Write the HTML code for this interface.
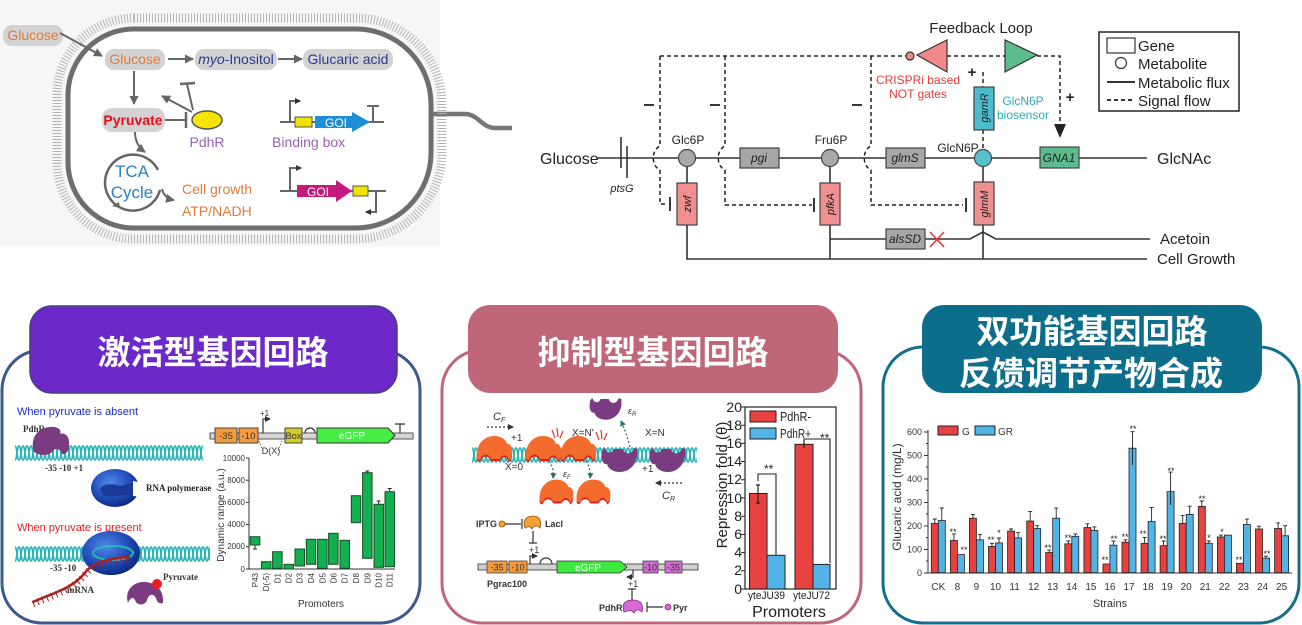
<!DOCTYPE html>
<html><head><meta charset="utf-8">
<style>
html,body{margin:0;padding:0;background:#fff;}
svg{display:block;font-family:"Liberation Sans","Noto Sans CJK SC",sans-serif;}
.cj{font-family:"Liberation Sans","Noto Sans CJK SC",sans-serif;font-weight:bold;fill:#fff;font-size:33px;}
.sf{font-family:"Liberation Serif",serif;font-weight:bold;}
</style></head><body>
<svg width="1302" height="625" viewBox="0 0 1302 625" xmlns="http://www.w3.org/2000/svg">
<defs>
 <marker id="ag" markerWidth="9" markerHeight="9" refX="8" refY="4.5" orient="auto" markerUnits="userSpaceOnUse"><path d="M0,0 L9,4.5 L0,9 z" fill="#666"/></marker>
 <marker id="ak" markerWidth="6" markerHeight="6" refX="5" refY="3" orient="auto" markerUnits="userSpaceOnUse"><path d="M0,0 L6,3 L0,6 z" fill="#333"/></marker>
 <marker id="at" markerWidth="6" markerHeight="6" refX="5" refY="3" orient="auto" markerUnits="userSpaceOnUse"><path d="M0,0 L6,3 L0,6 z" fill="#2a6f73"/></marker>
 <pattern id="hx" width="8" height="16" patternUnits="userSpaceOnUse">
  <path d="M0 1 C2 1 2 15 4 15 C6 15 6 1 8 1" stroke="#2db4b4" stroke-width="1.7" fill="none"/>
  <path d="M0 15 C2 15 2 1 4 1 C6 1 6 15 8 15" stroke="#2db4b4" stroke-width="1.7" fill="none"/>
 </pattern>
 <radialGradient id="pol" cx="40%" cy="35%" r="70%">
  <stop offset="0" stop-color="#4f86e8"/><stop offset="0.6" stop-color="#1f4bb8"/><stop offset="1" stop-color="#0b2476"/>
 </radialGradient>
 <path id="ob" d="M-17 10 C-19 -4 -10 -13 0 -13 C8 -13 12 -9 13 -5 C16 -6 19 -2 18 4 C18 8 17 10 15 11 C13 5 8 5 6 10 L-3 10 C-5 4 -12 4 -14 11 Z"/>
</defs>

<!-- ============ TOP LEFT CELL ============ -->
<rect x="0" y="0" width="440" height="246" fill="#f6f6f6"/>
<path d="M433 114 H465 C478 114 482 128 495 128 H512" fill="none" stroke="#777" stroke-width="4.5"/>
<path d="M134 18 H356 A86 86 0 0 1 442 104 V153 A86 86 0 0 1 356 239 H134 A77 77 0 0 1 57 162 V95 A77 77 0 0 1 134 18 Z" fill="none" stroke="#b4b4b4" stroke-width="9" stroke-dasharray="1 2"/>
<path d="M134 29 H356 A75 75 0 0 1 431 104 V153 A75 75 0 0 1 356 228 H134 A66 66 0 0 1 68 162 V95 A66 66 0 0 1 134 29 Z" fill="#fff" stroke="#6e6e6e" stroke-width="5"/>

<rect x="3" y="25" width="60" height="21" rx="9" fill="#d3d3d3"/>
<text x="33" y="40" font-size="14" fill="#e07b39" text-anchor="middle">Glucose</text>
<line x1="60" y1="33" x2="102" y2="56" stroke="#666" stroke-width="2" marker-end="url(#ag)"/>
<rect x="105" y="49" width="60" height="21" rx="9" fill="#d3d3d3"/>
<text x="135" y="64" font-size="14" fill="#e07b39" text-anchor="middle">Glucose</text>
<line x1="168" y1="59" x2="193" y2="59" stroke="#666" stroke-width="2" marker-end="url(#ag)"/>
<rect x="195" y="49" width="82" height="21" rx="9" fill="#d3d3d3"/>
<text x="236" y="64" font-size="14" fill="#2b3a8c" text-anchor="middle"><tspan font-style="italic">myo</tspan>-Inositol</text>
<line x1="278" y1="59" x2="302" y2="59" stroke="#666" stroke-width="2" marker-end="url(#ag)"/>
<rect x="303" y="49" width="90" height="21" rx="9" fill="#d3d3d3"/>
<text x="348" y="64" font-size="14" fill="#2b3a8c" text-anchor="middle">Glucaric acid</text>
<line x1="134" y1="71" x2="134" y2="104" stroke="#666" stroke-width="2" marker-end="url(#ag)"/>
<rect x="102" y="108" width="63" height="24" rx="10" fill="#d3d3d3"/>
<text x="133" y="125" font-size="14" font-weight="bold" fill="#e3101c" text-anchor="middle">Pyruvate</text>
<line x1="165" y1="120" x2="186" y2="120" stroke="#666" stroke-width="2"/>
<line x1="186" y1="112" x2="186" y2="128" stroke="#666" stroke-width="2.5"/>
<ellipse cx="207" cy="120" rx="15" ry="9" fill="#f7e400" stroke="#555" stroke-width="1.5"/>
<line x1="192" y1="112" x2="162" y2="96" stroke="#666" stroke-width="2" marker-end="url(#ag)"/>
<line x1="193" y1="110" x2="187" y2="84" stroke="#666" stroke-width="2"/>
<line x1="180" y1="84" x2="195" y2="83" stroke="#666" stroke-width="2.5"/>
<text x="207" y="147" font-size="14" fill="#9b5fb5" text-anchor="middle">PdhR</text>
<path d="M135 132 Q135 145 145 152" fill="none" stroke="#666" stroke-width="2" marker-end="url(#ag)"/>
<path d="M158 170 A28 28 0 1 0 160 190" fill="none" stroke="#666" stroke-width="2.5"/>
<path d="M162 189 Q164 198 174 200" fill="none" stroke="#666" stroke-width="2" marker-end="url(#ag)"/>
<path d="M120 208 L112 206 L119 202 z" fill="#666"/>
<text x="132" y="177" font-size="17" fill="#2c7fc4" text-anchor="middle">TCA</text>
<text x="132" y="198" font-size="17" fill="#2c7fc4" text-anchor="middle">Cycle</text>
<text x="182" y="194" font-size="14" fill="#e07b39">Cell growth</text>
<text x="182" y="216" font-size="14" fill="#e07b39">ATP/NADH</text>

<line x1="280" y1="122" x2="384" y2="122" stroke="#666" stroke-width="2"/>
<path d="M290 122 V101 H300" fill="none" stroke="#666" stroke-width="2" marker-end="url(#ak)"/>
<rect x="295" y="117" width="17" height="10" fill="#f2e200" stroke="#555" stroke-width="1"/>
<polygon points="315,116 352,116 352,112 370,122 352,132 352,128 315,128" fill="#1c8fd6"/>
<text x="336" y="127" font-size="12" fill="#fff" text-anchor="middle">GOI</text>
<line x1="373" y1="122" x2="373" y2="106" stroke="#666" stroke-width="2"/>
<line x1="367" y1="106" x2="379" y2="106" stroke="#666" stroke-width="2"/>
<text x="272" y="147" font-size="14" fill="#9b5fb5">Binding box</text>

<line x1="280" y1="191" x2="386" y2="191" stroke="#666" stroke-width="2"/>
<path d="M290 191 V168 H301" fill="none" stroke="#666" stroke-width="2" marker-end="url(#ak)"/>
<polygon points="297,185 336,185 336,180 352,191 336,202 336,197 297,197" fill="#c4197d"/>
<text x="318" y="196" font-size="12" fill="#fff" text-anchor="middle">GOI</text>
<rect x="353" y="186" width="15" height="10" fill="#f2e200" stroke="#555" stroke-width="1"/>
<path d="M376 191 V212 H366" fill="none" stroke="#666" stroke-width="2" marker-end="url(#ak)"/>

<!-- ============ TOP RIGHT CIRCUIT ============ -->
<g stroke="#222" stroke-width="1.5" fill="none" stroke-dasharray="4 3">
 <path d="M660 56 H906"/>
 <path d="M947 56 H1005"/>
 <path d="M1037 56 H1060 V124"/>
 <path d="M660 56 V146 C651 150 651 166 660 170 V204 H668"/>
 <path d="M725 56 V146 C716 150 716 166 725 170 V205 H812"/>
 <path d="M871 56 V146 C862 150 862 166 871 170 V205 H963"/>
 <path d="M983 72 V87"/>
 <path d="M983 130 V150"/>
</g>
<g stroke="#222" stroke-width="1.8">
 <line x1="670" y1="197" x2="670" y2="211"/>
 <line x1="814" y1="198" x2="814" y2="212"/>
 <line x1="966" y1="198" x2="966" y2="212"/>
 <line x1="644" y1="105" x2="654" y2="105"/>
 <line x1="710" y1="105" x2="720" y2="105"/>
 <line x1="852" y1="105" x2="862" y2="105"/>
</g>
<polygon points="1054,124 1066,124 1060,138" fill="#222"/>
<polygon points="917,55 947,40 947,72" fill="#f08a8a" stroke="#333" stroke-width="1.2"/>
<circle cx="910" cy="56" r="4" fill="#f08a8a" stroke="#333" stroke-width="1.2"/>
<polygon points="1005,40 1005,72 1037,55" fill="#5dbb8e" stroke="#333" stroke-width="1.2"/>
<text x="981" y="33" font-size="15" fill="#222" text-anchor="middle">Feedback Loop</text>
<text x="918" y="84" font-size="12" fill="#e53a3a" text-anchor="middle">CRISPRi based</text>
<text x="918" y="98" font-size="12" fill="#e53a3a" text-anchor="middle">NOT gates</text>
<text x="972" y="77" font-size="15" font-weight="bold" fill="#222" text-anchor="middle">+</text>
<text x="1070" y="102" font-size="15" font-weight="bold" fill="#222" text-anchor="middle">+</text>
<text x="1023" y="105" font-size="12" fill="#2aaabb" text-anchor="middle">GlcN6P</text>
<text x="1023" y="119" font-size="12" fill="#2aaabb" text-anchor="middle">biosensor</text>

<g stroke="#333" stroke-width="1.6" fill="none">
 <path d="M597 158 H1147"/>
 <path d="M687 165 V259 H1147"/>
 <path d="M830 165 V259"/>
 <path d="M983 165 V259"/>
 <path d="M830 239 H970 L983 232 L996 239 H1150"/>
 <line x1="621" y1="137" x2="621" y2="168"/>
 <line x1="627" y1="146" x2="627" y2="178"/>
</g>
<line x1="930" y1="232" x2="944" y2="247" stroke="#e53030" stroke-width="1.5"/>
<line x1="944" y1="232" x2="930" y2="247" stroke="#e53030" stroke-width="1.5"/>
<g stroke="#444" stroke-width="1.2">
 <rect x="740" y="148" width="39" height="20" fill="#a6a6a6"/>
 <rect x="886" y="148" width="39" height="20" fill="#a6a6a6"/>
 <rect x="1040" y="147" width="39" height="21" fill="#5dbb8e"/>
 <rect x="886" y="229" width="39" height="20" fill="#a6a6a6"/>
 <rect x="677" y="183" width="20" height="42" fill="#ef8f8f"/>
 <rect x="820" y="183" width="20" height="42" fill="#ef8f8f"/>
 <rect x="974" y="182" width="20" height="43" fill="#ef8f8f"/>
 <rect x="974" y="87" width="20" height="43" fill="#4bbccc"/>
 <circle cx="687" cy="158" r="8.5" fill="#a9a9a9"/>
 <circle cx="830" cy="158" r="8.5" fill="#a9a9a9"/>
 <circle cx="983" cy="158" r="8.5" fill="#56c0cc"/>
</g>
<g font-size="12" font-style="italic" fill="#222" text-anchor="middle">
 <text x="759" y="162">pgi</text>
 <text x="905" y="162">glmS</text>
 <text x="1059" y="162">GNA1</text>
 <text x="905" y="243">alsSD</text>
 <text transform="translate(691,204) rotate(-90)" font-size="11">zwf</text>
 <text transform="translate(834,204) rotate(-90)" font-size="11">pfkA</text>
 <text transform="translate(988,204) rotate(-90)" font-size="11">glmM</text>
 <text transform="translate(988,108) rotate(-90)" font-size="11">gamR</text>
 <text x="622" y="192" font-size="11">ptsG</text>
</g>
<g font-size="12" fill="#222" text-anchor="middle">
 <text x="688" y="144">Glc6P</text>
 <text x="831" y="144">Fru6P</text>
 <text x="958" y="152">GlcN6P</text>
</g>
<text x="540" y="164" font-size="16" fill="#222">Glucose</text>
<text x="1157" y="164" font-size="16" fill="#222">GlcNAc</text>
<text x="1160" y="244" font-size="15" fill="#222">Acetoin</text>
<text x="1157" y="264" font-size="15" fill="#222">Cell Growth</text>
<rect x="1099" y="32" width="140" height="79" fill="#fff" stroke="#222" stroke-width="1.5"/>
<rect x="1107" y="38" width="28" height="15" fill="none" stroke="#333" stroke-width="1.2"/>
<circle cx="1121" cy="63" r="5.5" fill="none" stroke="#333" stroke-width="1.2"/>
<line x1="1107" y1="82" x2="1135" y2="82" stroke="#333" stroke-width="2"/>
<line x1="1107" y1="100" x2="1135" y2="100" stroke="#333" stroke-width="2" stroke-dasharray="4 3"/>
<g font-size="15" fill="#222">
 <text x="1138" y="51">Gene</text>
 <text x="1138" y="69">Metabolite</text>
 <text x="1138" y="88">Metabolic flux</text>
 <text x="1138" y="106">Signal flow</text>
</g>

<!-- ============ BOTTOM PANELS FRAMES ============ -->
<rect x="2" y="350" width="418" height="273" rx="40" fill="#fff" stroke="#3c5a8c" stroke-width="3"/>
<rect x="30" y="306" width="367" height="87" rx="22" fill="#6c28c8" stroke="#44407e" stroke-width="1.5"/>
<text x="213" y="364" class="cj" text-anchor="middle">激活型基因回路</text>

<rect x="442" y="350" width="419" height="273" rx="40" fill="#fff" stroke="#c0667a" stroke-width="3"/>
<rect x="468" y="305" width="370" height="88" rx="22" fill="#bf6679"/>
<text x="653" y="364" class="cj" text-anchor="middle">抑制型基因回路</text>

<rect x="883" y="347" width="416" height="276" rx="40" fill="#fff" stroke="#14708a" stroke-width="3"/>
<rect x="922" y="305" width="340" height="88" rx="22" fill="#0c6e8b"/>
<text x="1092" y="343" class="cj" text-anchor="middle">双功能基因回路</text>
<text x="1091" y="385" class="cj" text-anchor="middle">反馈调节产物合成</text>

<!-- ============ BOTTOM LEFT CONTENT ============ -->
<text x="17" y="415" font-size="11" fill="#1a2ad0">When pyruvate is absent</text>
<text x="23" y="432" class="sf" font-size="9" fill="#333">PdhR</text>
<g transform="translate(15,445)"><rect x="0" y="0" width="188" height="16" fill="url(#hx)"/></g>
<path d="M34 452 C30 440 36 428 50 427 C58 426 62 430 60 434 C64 432 70 436 69 444 C70 450 66 455 62 454 C60 448 55 447 52 452 C48 456 40 456 34 452 Z" fill="#7a3b80"/>
<text x="45" y="471" class="sf" font-size="9" fill="#333">-35  -10  +1</text>
<ellipse cx="115" cy="488" rx="24" ry="19" fill="url(#pol)"/>
<path d="M100 490 C104 482 114 484 120 486 L133 483 L140 484 L140 496 L133 495 C124 494 112 498 104 496 Z" fill="#1a3a98"/>
<path d="M133 481 L143 483 L143 497 L133 496 Z" fill="#fff"/>
<text x="146" y="491" class="sf" font-size="9" fill="#222">RNA polymerase</text>
<text x="17" y="531" font-size="11" fill="#e02020">When pyruvate is present</text>
<g transform="translate(15,546)"><rect x="0" y="0" width="195" height="16" fill="url(#hx)"/></g>
<ellipse cx="111" cy="553" rx="29" ry="22" fill="url(#pol)"/>
<ellipse cx="113" cy="553" rx="20" ry="7" fill="none" stroke="#2db4b4" stroke-width="2"/>
<path d="M33 602 C50 594 70 590 84 574 C92 562 110 558 130 557" fill="none" stroke="#a82020" stroke-width="2.5"/>
<path d="M33 602 C50 594 70 590 84 574 C92 562 110 558 130 557" fill="none" stroke="#a82020" stroke-width="7" stroke-dasharray="1 4" transform="translate(0,2)"/>
<text x="50" y="571" class="sf" font-size="9" fill="#333">-35  -10</text>
<text x="67" y="593" class="sf" font-size="9" fill="#333">mRNA</text>
<text x="163" y="580" class="sf" font-size="9" fill="#333">Pyruvate</text>
<path d="M128 603 C124 590 134 581 146 582 C156 583 164 590 163 603 C160 604 157 603 156 598 C153 593 149 594 147 600 C145 606 137 606 135 600 C133 596 130 598 128 603 Z" fill="#7a3b80"/>
<circle cx="157" cy="584" r="5" fill="#ee1c24"/>

<!-- left gene construct -->
<rect x="210" y="433" width="203" height="6" fill="#d6d6d6" stroke="#555" stroke-width="1"/>
<rect x="215" y="428" width="22" height="15" fill="#f59a3a" stroke="#444" stroke-width="1"/>
<rect x="239" y="428" width="19" height="15" fill="#f59a3a" stroke="#444" stroke-width="1"/>
<rect x="285" y="428" width="17" height="15" fill="#d4cc2a" stroke="#444" stroke-width="1"/>
<polygon points="317,428 388,428 395,435.5 388,443 317,443" fill="#44ee44" stroke="#333" stroke-width="1"/>
<g font-size="9.5" fill="#333" text-anchor="middle">
 <text x="226" y="439">-35</text><text x="248.5" y="439">-10</text><text x="293.5" y="439">Box</text>
</g>
<text x="352" y="439" font-size="10" fill="#fff" text-anchor="middle">eGFP</text>
<path d="M263 433 V419 H270" fill="none" stroke="#333" stroke-width="1.2" marker-end="url(#ak)"/>
<text x="260" y="416" font-size="8" fill="#333">+1</text>
<path d="M305 433 A5 5 0 0 1 315 433" fill="none" stroke="#333" stroke-width="1.2"/>
<path d="M400 433 V424 M395 424 H405" fill="none" stroke="#333" stroke-width="1.2"/>
<path d="M259 441 L263 451 M282 441 L278 451" stroke="#555" stroke-width="0.8" stroke-dasharray="1.5 1.5"/>
<text x="271" y="454" font-size="9" fill="#333" text-anchor="middle">D(X)</text>

<!-- left chart -->
<path d="M249 458 V569 H395" fill="none" stroke="#333" stroke-width="1"/>
<g stroke="#333" stroke-width="1">
 <path d="M246 458 H249 M246 480.2 H249 M246 502.4 H249 M246 524.6 H249 M246 546.8 H249 M246 569 H249"/>
</g>
<g font-size="8" fill="#333" text-anchor="end">
 <text x="245" y="461">10000</text><text x="245" y="483">8000</text><text x="245" y="505">6000</text>
 <text x="245" y="527">4000</text><text x="245" y="549">2000</text><text x="245" y="572">0</text>
</g>
<text transform="translate(224,515) rotate(-90)" font-size="10" fill="#333" text-anchor="middle">Dynamic range (a.u.)</text>
<g fill="#12b04e" stroke="#1a4a2a" stroke-width="1">
 <rect x="250.3" y="536.7" width="9.5" height="8.3"/>
 <rect x="261.5" y="561.7" width="9.5" height="7.3"/>
 <rect x="272.6" y="551.7" width="9.5" height="16.6"/>
 <rect x="284" y="564.3" width="9.5" height="4.7"/>
 <rect x="295" y="549" width="9.5" height="17"/>
 <rect x="306.3" y="539.3" width="9.5" height="25"/>
 <rect x="317.6" y="539.3" width="9.5" height="29"/>
 <rect x="328.6" y="533.3" width="9.5" height="31"/>
 <rect x="340" y="540.3" width="9.5" height="28"/>
 <rect x="351.3" y="495.7" width="9.5" height="27"/>
 <rect x="362.6" y="472.7" width="9.5" height="85.6"/>
 <rect x="374" y="504.3" width="9.5" height="63"/>
 <rect x="385" y="491.7" width="9.5" height="75"/>
</g>
<path d="M255 545 V549 M253 549 h4 M378.7 504 V501 M376.7 501 h4 M389.7 491 V488.5 M387.7 488.5 h4 M367.3 472.5 V471 M365.3 471 h4" stroke="#222" stroke-width="1"/>
<g font-size="8" fill="#333" text-anchor="end">
 <text transform="translate(258,573) rotate(-90)">P43</text>
 <text transform="translate(269,573) rotate(-90)">D(-5)</text>
 <text transform="translate(280.5,573) rotate(-90)">D1</text>
 <text transform="translate(291.7,573) rotate(-90)">D2</text>
 <text transform="translate(302.7,573) rotate(-90)">D3</text>
 <text transform="translate(314,573) rotate(-90)">D4</text>
 <text transform="translate(325.3,573) rotate(-90)">D5</text>
 <text transform="translate(336.3,573) rotate(-90)">D6</text>
 <text transform="translate(347.7,573) rotate(-90)">D7</text>
 <text transform="translate(359,573) rotate(-90)">D8</text>
 <text transform="translate(370.3,573) rotate(-90)">D9</text>
 <text transform="translate(381.7,573) rotate(-90)">D10</text>
 <text transform="translate(392.7,573) rotate(-90)">D11</text>
</g>
<text x="321" y="607" font-size="10" fill="#333" text-anchor="middle">Promoters</text>

<!-- ============ BOTTOM MIDDLE CONTENT ============ -->
<text x="493" y="420" font-size="11" font-style="italic" fill="#333">C<tspan font-size="7" dy="2">F</tspan></text>
<line x1="487" y1="427" x2="513" y2="427" stroke="#333" stroke-width="1.2" stroke-dasharray="2 2" marker-end="url(#ak)"/>
<text x="511" y="441" font-size="10" fill="#333">+1</text>
<g transform="translate(472,447)"><rect x="0" y="0" width="225" height="16" fill="url(#hx)"/></g>
<g transform="translate(494,449)"><use href="#ob" fill="#e0201c" y="2"/><use href="#ob" fill="#f36b2d"/></g>
<g transform="translate(543,449)"><use href="#ob" fill="#e0201c" y="2"/><use href="#ob" fill="#f36b2d"/></g>
<g transform="translate(578,449)"><use href="#ob" fill="#e0201c" y="2"/><use href="#ob" fill="#f36b2d"/></g>
<g transform="translate(620,459) rotate(180)"><use href="#ob" fill="#7a3b80"/></g>
<g transform="translate(668,459) rotate(180)"><use href="#ob" fill="#7a3b80"/></g>
<g transform="translate(606,408) rotate(180) scale(0.9)"><use href="#ob" fill="#7a3b80"/></g>
<g stroke="#e53030" stroke-width="1.2">
 <path d="M552 430 L555 438 M557 428 L558 437 M563 431 L560 438"/>
 <path d="M596 432 L599 440 M601 430 L602 439 M607 433 L604 440"/>
</g>
<g font-size="10" fill="#333">
 <text x="572" y="436">X=N'</text>
 <text x="645" y="436">X=N</text>
 <text x="505" y="470">X=0</text>
 <text x="642" y="472">+1</text>
</g>
<text x="628" y="414" font-size="9" font-style="italic" fill="#333">ε<tspan font-size="6" dy="2">R</tspan></text>
<text x="563" y="477" font-size="9" font-style="italic" fill="#333">ε<tspan font-size="6" dy="2">F</tspan></text>
<g fill="none" stroke="#2a6f73" stroke-width="1.2" stroke-dasharray="2 2">
 <path d="M549 461 Q554 468 553 478" marker-end="url(#at)"/>
 <path d="M586 461 Q591 468 590 478" marker-end="url(#at)"/>
 <path d="M630 447 Q626 432 621 421" marker-end="url(#at)"/>
</g>
<g transform="translate(556,492) scale(0.95)"><use href="#ob" fill="#e0201c" y="2"/><use href="#ob" fill="#f36b2d"/></g>
<g transform="translate(593,492) scale(0.95)"><use href="#ob" fill="#e0201c" y="2"/><use href="#ob" fill="#f36b2d"/></g>
<text x="662" y="499" font-size="11" font-style="italic" fill="#333">C<tspan font-size="7" dy="2">R</tspan></text>
<line x1="682" y1="483" x2="656" y2="483" stroke="#333" stroke-width="1.2" stroke-dasharray="2 2" marker-end="url(#ak)"/>

<text x="476" y="527" font-size="9" font-weight="bold" fill="#333">IPTG</text>
<circle cx="502" cy="524" r="3" fill="#f5a030" stroke="#8a5010" stroke-width="0.8"/>
<path d="M505 524 H521 M522 519 V529" stroke="#333" stroke-width="1.2"/>
<path d="M525 528 C522 520 527 516 533 516 C539 516 542 520 540 528 C537 525 534 525 532 529 C530 526 528 526 525 528 Z" fill="#f5a030" stroke="#8a5010" stroke-width="0.8"/>
<text x="545" y="527" font-size="9" font-weight="bold" fill="#333">LacI</text>
<path d="M533 531 V543 M529 543 H537" stroke="#333" stroke-width="1.2"/>
<text x="529" y="553" font-size="9" fill="#333">+1</text>
<rect x="478" y="564" width="220" height="6" fill="#d0d0d0" stroke="#555" stroke-width="1"/>
<rect x="487" y="561" width="20" height="12" fill="#f59a3a" stroke="#444" stroke-width="0.8"/>
<rect x="509" y="561" width="18" height="12" fill="#f59a3a" stroke="#444" stroke-width="0.8"/>
<rect x="643" y="561" width="15" height="12" fill="#d46ad4" stroke="#444" stroke-width="0.8"/>
<rect x="665" y="561" width="17" height="12" fill="#d46ad4" stroke="#444" stroke-width="0.8"/>
<polygon points="557,561 620,561 627,567 620,573 557,573" fill="#3ee83e" stroke="#333" stroke-width="0.8"/>
<g font-size="9" fill="#333" text-anchor="middle">
 <text x="497" y="570.5">-35</text><text x="518" y="570.5">-10</text>
 <text x="650.5" y="570.5">-10</text><text x="673.5" y="570.5">-35</text>
</g>
<text x="588" y="571" font-size="10" fill="#fff" text-anchor="middle">eGFP</text>
<path d="M530 564 V556 H537" fill="none" stroke="#333" stroke-width="1.2" marker-end="url(#ak)"/>
<path d="M540 564 A6 6 0 0 1 552 564" fill="none" stroke="#333" stroke-width="1.2"/>
<path d="M633 570 V577 H627" fill="none" stroke="#333" stroke-width="1.2" marker-end="url(#ak)"/>
<text x="628" y="587" font-size="9" fill="#333">+1</text>
<path d="M632 600 V589 M628 589 H636" stroke="#333" stroke-width="1.2"/>
<text x="487" y="587" font-size="9" font-weight="bold" fill="#333">Pgrac100</text>
<text x="599" y="611" font-size="9" font-weight="bold" fill="#333">PdhR</text>
<path d="M624 612 C621 603 626 600 633 600 C640 600 644 604 642 612 C639 609 636 609 634 613 C632 610 628 610 624 612 Z" fill="#d86ad8" stroke="#7a2a7a" stroke-width="0.8"/>
<path d="M647 607 H663 M647 602 V612" stroke="#333" stroke-width="1.2"/>
<circle cx="668" cy="607" r="3" fill="#d86ad8" stroke="#7a2a7a" stroke-width="0.8"/>
<text x="673" y="611" font-size="9" font-weight="bold" fill="#333">Pyr</text>

<!-- middle chart -->
<rect x="745" y="407" width="91" height="182" fill="none" stroke="#222" stroke-width="1.2"/>
<g stroke="#222" stroke-width="1">
 <path d="M741 407H745 M741 425.2H745 M741 443.4H745 M741 461.6H745 M741 479.8H745 M741 498H745 M741 516.2H745 M741 534.4H745 M741 552.6H745 M741 570.8H745 M741 589H745"/>
</g>
<g font-size="14" fill="#222" text-anchor="end">
 <text x="742" y="412">20</text><text x="742" y="430">18</text><text x="742" y="448">16</text>
 <text x="742" y="466">14</text><text x="742" y="484">12</text><text x="742" y="503">10</text>
 <text x="742" y="521">8</text><text x="742" y="539">6</text><text x="742" y="557">4</text>
 <text x="742" y="575">2</text><text x="742" y="594">0</text>
</g>
<text transform="translate(727,485) rotate(-90)" font-size="15" fill="#222" text-anchor="middle">Repression fold (θ)</text>
<rect x="750" y="411" width="26" height="11" fill="#e8413f" stroke="#222" stroke-width="1"/>
<rect x="750" y="428" width="26" height="11" fill="#52b4e6" stroke="#222" stroke-width="1"/>
<text x="780" y="421" font-size="13" fill="#222" textLength="31" lengthAdjust="spacingAndGlyphs">PdhR-</text>
<text x="780" y="438" font-size="13" fill="#222" textLength="31" lengthAdjust="spacingAndGlyphs">PdhR+</text>
<text x="820" y="442" font-size="12" fill="#222">**</text>
<g stroke="#222" stroke-width="1">
 <rect x="749.5" y="493.5" width="17.5" height="95.5" fill="#e8413f"/>
 <rect x="767" y="555.3" width="18" height="33.7" fill="#52b4e6"/>
 <rect x="795" y="444.3" width="18" height="144.7" fill="#e8413f"/>
 <rect x="813" y="564.4" width="17" height="24.6" fill="#52b4e6"/>
</g>
<path d="M758 485 V503 M756 485 h4 M756 503 h4 M804 440 V448" stroke="#222" stroke-width="1.2"/>
<path d="M758 481 V474 H776 V555 M804 443 V439 H830 V563" fill="none" stroke="#222" stroke-width="1.1"/>
<text x="764" y="473" font-size="12" fill="#222">**</text>
<text x="748" y="599" font-size="11" fill="#222" textLength="37" lengthAdjust="spacingAndGlyphs">yteJU39</text>
<text x="793" y="599" font-size="11" fill="#222" textLength="37" lengthAdjust="spacingAndGlyphs">yteJU72</text>
<text x="789" y="617" font-size="16" fill="#222" text-anchor="middle">Promoters</text>

<!-- ============ BOTTOM RIGHT CHART ============ -->
<path d="M928 430 V573 H1292" fill="none" stroke="#333" stroke-width="1"/>
<g stroke="#333" stroke-width="1">
 <path d="M924 573H928 M924 549.5H928 M924 526H928 M924 502.5H928 M924 479H928 M924 455.5H928 M924 432H928"/>
 <path d="M926 561H928 M926 537.5H928 M926 514H928 M926 490.5H928 M926 467H928 M926 443.5H928"/>
</g>
<g font-size="9" fill="#333" text-anchor="end">
 <text x="922" y="576">0</text><text x="922" y="552.5">100</text><text x="922" y="529">200</text>
 <text x="922" y="505.5">300</text><text x="922" y="482">400</text><text x="922" y="458.5">500</text><text x="922" y="435">600</text>
</g>
<text transform="translate(901,497) rotate(-90)" font-size="12" fill="#333" text-anchor="middle">Glucaric acid (mg/L)</text>
<rect x="938" y="426" width="20" height="9" fill="#e8413f" stroke="#222" stroke-width="1"/>
<text x="962" y="435" font-size="10" fill="#333">G</text>
<rect x="975" y="426" width="20" height="9" fill="#52b4e6" stroke="#222" stroke-width="1"/>
<text x="998" y="435" font-size="10" fill="#333">GR</text>
<g stroke="#222" stroke-width="0.8" fill="#e8413f">
 <rect x="931.3" y="523.4" width="7" height="49.3"/>
 <rect x="950.4" y="540.5" width="7" height="32.2"/>
 <rect x="969.4" y="518.2" width="7" height="54.5"/>
 <rect x="988.5" y="546.4" width="7" height="26.3"/>
 <rect x="1007.6" y="531.1" width="7" height="41.6"/>
 <rect x="1026.7" y="521" width="7" height="51.7"/>
 <rect x="1045.7" y="552.5" width="7" height="20.2"/>
 <rect x="1064.8" y="543.8" width="7" height="28.9"/>
 <rect x="1083.9" y="527.6" width="7" height="45.1"/>
 <rect x="1102.9" y="564" width="7" height="8.7"/>
 <rect x="1122" y="542.2" width="7" height="30.5"/>
 <rect x="1141.1" y="543.3" width="7" height="29.4"/>
 <rect x="1160.1" y="545.7" width="7" height="27"/>
 <rect x="1179.2" y="523.4" width="7" height="49.3"/>
 <rect x="1198.3" y="506.4" width="7" height="66.3"/>
 <rect x="1217.4" y="537" width="7" height="35.7"/>
 <rect x="1236.4" y="563.3" width="7" height="9.4"/>
 <rect x="1255.5" y="529" width="7" height="43.7"/>
 <rect x="1274.6" y="528.5" width="7" height="44.2"/>
</g>
<g stroke="#222" stroke-width="0.8" fill="#52b4e6">
 <rect x="938.3" y="520.5" width="7" height="52.2"/>
 <rect x="957.4" y="554.6" width="7" height="18.1"/>
 <rect x="976.4" y="539.8" width="7" height="32.9"/>
 <rect x="995.5" y="542.9" width="7" height="29.8"/>
 <rect x="1014.6" y="537.9" width="7" height="34.8"/>
 <rect x="1033.7" y="528.5" width="7" height="44.2"/>
 <rect x="1052.7" y="518.2" width="7" height="54.5"/>
 <rect x="1071.8" y="536.3" width="7" height="36.4"/>
 <rect x="1090.9" y="530.4" width="7" height="42.3"/>
 <rect x="1109.9" y="545.2" width="7" height="27.5"/>
 <rect x="1129" y="448.2" width="7" height="124.5"/>
 <rect x="1148.1" y="521.5" width="7" height="51.2"/>
 <rect x="1167.1" y="491.6" width="7" height="81.1"/>
 <rect x="1186.2" y="514.4" width="7" height="58.3"/>
 <rect x="1205.3" y="543.3" width="7" height="29.4"/>
 <rect x="1224.4" y="535.1" width="7" height="37.6"/>
 <rect x="1243.4" y="524.5" width="7" height="48.2"/>
 <rect x="1262.5" y="558.1" width="7" height="14.6"/>
 <rect x="1281.6" y="535.8" width="7" height="36.9"/>
</g>
<path stroke="#222" stroke-width="0.9" fill="none" d="M934.8 523.4V519M932.8 519h4M941.8 520.5V508M939.8 508h4M953.9 540.5V533.9M951.9 533.9h4M972.9 518.2V514.4M970.9 514.4h4M979.9 539.8V534.6M977.9 534.6h4M992 546.4V543.3M990 543.3h4M999 542.9V538M997 538h4M1011.1 531.1V529M1009.1 529h4M1018.1 537.9V532.7M1016.1 532.7h4M1030.2 521V511.6M1028.2 511.6h4M1037.2 528.5V525.7M1035.2 525.7h4M1049.2 552.5V550.1M1047.2 550.1h4M1056.2 518.2V508.1M1054.2 508.1h4M1068.3 543.8V541M1066.3 541h4M1075.3 536.3V533.9M1073.3 533.9h4M1087.4 527.6V523.8M1085.4 523.8h4M1094.4 530.4V526.9M1092.4 526.9h4M1113.4 545.2V541M1111.4 541h4M1125.5 542.2V539.8M1123.5 539.8h4M1132.5 465V431.7M1130.5 431.7h4M1144.6 543.3V537.4M1142.6 537.4h4M1151.6 521.5V507.4M1149.6 507.4h4M1163.6 545.7V541M1161.6 541h4M1170.6 505V472.1M1168.6 472.1h4M1182.7 523.4V515.6M1180.7 515.6h4M1189.7 514.4V506.2M1187.7 506.2h4M1201.8 506.4V501M1199.8 501h4M1208.8 543.3V541M1206.8 541h4M1220.9 537V535.1M1218.9 535.1h4M1246.9 524.5V519.1M1244.9 519.1h4M1259 529V526.2M1257 526.2h4M1266 558.1V556.2M1264 556.2h4M1278.1 528.5V522.9M1276.1 522.9h4M1285.1 535.8V525.7M1283.1 525.7h4"/>
<g font-size="9" fill="#222" text-anchor="middle">
 <text x="953" y="535">**</text><text x="964" y="553">**</text>
 <text x="991" y="543">**</text><text x="999" y="536">*</text>
 <text x="1048" y="551">**</text><text x="1068" y="541">**</text>
 <text x="1105" y="563">**</text><text x="1114" y="542">**</text>
 <text x="1125" y="540">**</text><text x="1133" y="432">**</text>
 <text x="1143" y="537">**</text><text x="1163" y="542">**</text>
 <text x="1171" y="474">**</text><text x="1202" y="502">**</text>
 <text x="1209" y="541">*</text><text x="1222" y="535">*</text>
 <text x="1239" y="563">**</text><text x="1267" y="557">**</text>
</g>
<g font-size="10" fill="#333" text-anchor="middle">
 <text x="938.3" y="590">CK</text><text x="957.4" y="590">8</text><text x="976.4" y="590">9</text>
 <text x="995.5" y="590">10</text><text x="1014.6" y="590">11</text><text x="1033.7" y="590">12</text>
 <text x="1052.7" y="590">13</text><text x="1071.8" y="590">14</text><text x="1090.9" y="590">15</text>
 <text x="1109.9" y="590">16</text><text x="1129" y="590">17</text><text x="1148.1" y="590">18</text>
 <text x="1167.1" y="590">19</text><text x="1186.2" y="590">20</text><text x="1205.3" y="590">21</text>
 <text x="1224.4" y="590">22</text><text x="1243.4" y="590">23</text><text x="1262.5" y="590">24</text>
 <text x="1281.6" y="590">25</text>
</g>
<text x="1110" y="607" font-size="11" fill="#333" text-anchor="middle">Strains</text>
</svg>
</body></html>
